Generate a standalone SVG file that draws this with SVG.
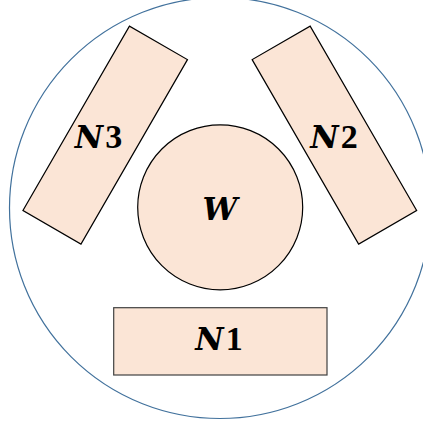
<svg xmlns="http://www.w3.org/2000/svg" width="423" height="428" viewBox="0 0 423 428">
  <style>
    .shape { fill: #FBE5D6; stroke: #000; stroke-width: 1.2; }
    .label { font-family: "DejaVu Serif", "Liberation Serif", serif; font-weight: bold; font-style: italic; font-size: 31px; fill: #000; text-anchor: middle; }
    .num { font-family: "Liberation Serif", serif; font-style: normal; font-size: 34px; }
  </style>
  <rect width="423" height="428" fill="#fff"/>
  <!-- outer boundary -->
  <g id="boundary">
    <circle cx="220" cy="208" r="210.5" fill="none" stroke="#41719C" stroke-width="1.2"/>
  </g>
  <g id="W">
    <circle class="shape" cx="220.2" cy="207.3" r="82.5"/>
    <text class="label" x="220" y="220">W</text>
  </g>
  <g id="N1">
    <rect class="shape" x="113.7" y="307.7" width="213.3" height="67.3" style="stroke:#404040"/>
    <text class="label" x="219" y="350">N<tspan class="num" dx="2">1</tspan></text>
  </g>
  <g id="N2">
    <rect class="shape" x="-33.5" y="-106.5" width="67" height="213" transform="translate(334.4 135.1) rotate(-30)"/>
    <text class="label" x="334" y="148.3">N<tspan class="num" dx="2">2</tspan></text>
  </g>
  <g id="N3">
    <rect class="shape" x="-33.5" y="-106.5" width="67" height="213" transform="translate(105.2 135.1) rotate(30)"/>
    <text class="label" x="98.5" y="148.3">N<tspan class="num" dx="2">3</tspan></text>
  </g>
  <g id="connectors"/>
</svg>
